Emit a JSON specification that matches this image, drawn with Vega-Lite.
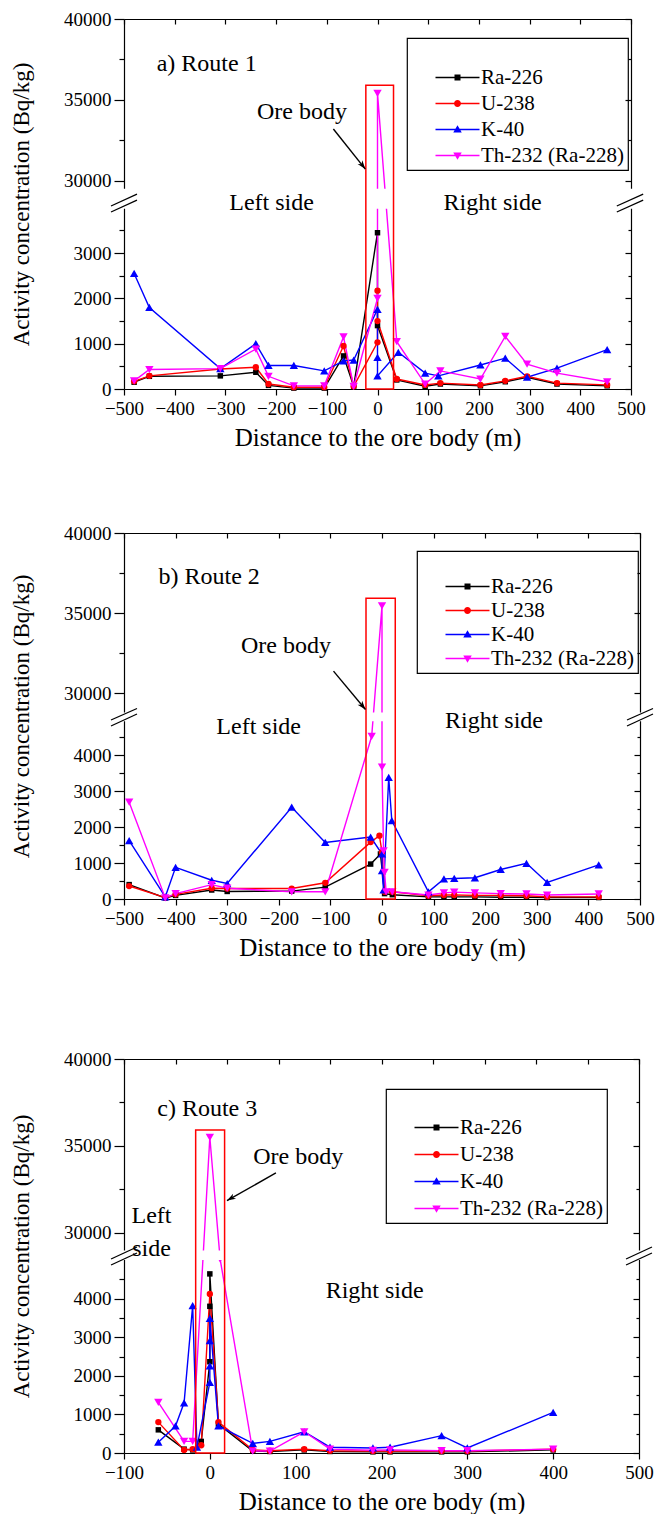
{
"$schema": "https://vega.github.io/schema/vega-lite/v6.json",
"padding": {"left": 10, "top": 10, "right": 0, "bottom": 0},
"background": "white",
"config": {
  "view": {"stroke": null},
  "axis": {"labelFont": "Liberation Serif", "titleFont": "Liberation Serif", "labelFontSize": 19, "titleFontSize": 23, "titleFontWeight": "normal", "labelColor": "black", "titleColor": "black", "domainColor": "black", "tickColor": "black", "domainWidth": 1.2, "tickWidth": 1.2, "grid": false, "labelFlush": false, "labelOverlap": false, "labelBound": false},
  "axisBottom": {"titleFontSize": 25},
  "legend": {"labelFont": "Liberation Serif", "labelFontSize": 21, "labelColor": "black", "titleFont": "Liberation Serif", "titleFontSize": 20, "strokeColor": "black", "strokeWidth": 1.2, "padding": 4, "symbolSize": 100, "symbolOffset": 36, "labelOffset": 13, "symbolStrokeWidth": 0, "symbolOpacity": 1, "labelLimit": 300},
  "text": {"font": "Liberation Serif"}
},
"datasets": {
  "r1": [
    {"s":"Ra-226","d":-480,"c":150,"q":1},{"s":"Ra-226","d":-450,"c":280,"q":2},{"s":"Ra-226","d":-310,"c":290,"q":3},{"s":"Ra-226","d":-240,"c":370,"q":4},{"s":"Ra-226","d":-215,"c":80,"q":5},{"s":"Ra-226","d":-165,"c":20,"q":6},{"s":"Ra-226","d":-105,"c":20,"q":7},{"s":"Ra-226","d":-67,"c":730,"q":8},{"s":"Ra-226","d":-47,"c":60,"q":9},{"s":"Ra-226","d":0,"c":3450,"q":10},{"s":"Ra-226","d":0,"c":1400,"q":11},{"s":"Ra-226","d":38,"c":200,"q":12},{"s":"Ra-226","d":94,"c":60,"q":13},{"s":"Ra-226","d":124,"c":110,"q":14},{"s":"Ra-226","d":203,"c":70,"q":15},{"s":"Ra-226","d":252,"c":160,"q":16},{"s":"Ra-226","d":295,"c":260,"q":17},{"s":"Ra-226","d":354,"c":110,"q":18},{"s":"Ra-226","d":453,"c":70,"q":19},
    {"s":"U-238","d":-480,"c":170,"q":1},{"s":"U-238","d":-450,"c":290,"q":2},{"s":"U-238","d":-310,"c":440,"q":3},{"s":"U-238","d":-240,"c":480,"q":4},{"s":"U-238","d":-215,"c":110,"q":5},{"s":"U-238","d":-165,"c":40,"q":6},{"s":"U-238","d":-105,"c":40,"q":7},{"s":"U-238","d":-67,"c":950,"q":8},{"s":"U-238","d":-47,"c":60,"q":9},{"s":"U-238","d":0,"c":1030,"q":10},{"s":"U-238","d":0,"c":2170,"q":11},{"s":"U-238","d":0,"c":1500,"q":12},{"s":"U-238","d":38,"c":220,"q":13},{"s":"U-238","d":94,"c":90,"q":14},{"s":"U-238","d":124,"c":130,"q":15},{"s":"U-238","d":203,"c":90,"q":16},{"s":"U-238","d":252,"c":180,"q":17},{"s":"U-238","d":295,"c":280,"q":18},{"s":"U-238","d":354,"c":130,"q":19},{"s":"U-238","d":453,"c":90,"q":20},
    {"s":"K-40","d":-480,"c":2550,"q":1},{"s":"K-40","d":-450,"c":1800,"q":2},{"s":"K-40","d":-310,"c":450,"q":3},{"s":"K-40","d":-240,"c":1000,"q":4},{"s":"K-40","d":-215,"c":520,"q":5},{"s":"K-40","d":-165,"c":520,"q":6},{"s":"K-40","d":-105,"c":400,"q":7},{"s":"K-40","d":-67,"c":620,"q":8},{"s":"K-40","d":-47,"c":640,"q":9},{"s":"K-40","d":0,"c":1760,"q":10},{"s":"K-40","d":0,"c":700,"q":11},{"s":"K-40","d":0,"c":290,"q":12},{"s":"K-40","d":41,"c":810,"q":13},{"s":"K-40","d":94,"c":350,"q":14},{"s":"K-40","d":120,"c":290,"q":15},{"s":"K-40","d":203,"c":530,"q":16},{"s":"K-40","d":252,"c":680,"q":17},{"s":"K-40","d":295,"c":260,"q":18},{"s":"K-40","d":354,"c":460,"q":19},{"s":"K-40","d":453,"c":870,"q":20},
    {"s":"Th-232 (Ra-228)","d":-480,"c":180,"q":1},{"s":"Th-232 (Ra-228)","d":-450,"c":430,"q":2},{"s":"Th-232 (Ra-228)","d":-310,"c":450,"q":3},{"s":"Th-232 (Ra-228)","d":-240,"c":880,"q":4},{"s":"Th-232 (Ra-228)","d":-215,"c":280,"q":5},{"s":"Th-232 (Ra-228)","d":-165,"c":70,"q":6},{"s":"Th-232 (Ra-228)","d":-105,"c":70,"q":7},{"s":"Th-232 (Ra-228)","d":-67,"c":1150,"q":8},{"s":"Th-232 (Ra-228)","d":-47,"c":60,"q":9},{"s":"Th-232 (Ra-228)","d":0,"c":2000,"q":10},{"s":"Th-232 (Ra-228)","d":0,"c":35400,"q":11},{"s":"Th-232 (Ra-228)","d":38,"c":1045,"q":12},{"s":"Th-232 (Ra-228)","d":94,"c":110,"q":13},{"s":"Th-232 (Ra-228)","d":124,"c":400,"q":14},{"s":"Th-232 (Ra-228)","d":203,"c":220,"q":15},{"s":"Th-232 (Ra-228)","d":252,"c":1160,"q":16},{"s":"Th-232 (Ra-228)","d":295,"c":550,"q":17},{"s":"Th-232 (Ra-228)","d":354,"c":350,"q":18},{"s":"Th-232 (Ra-228)","d":453,"c":160,"q":19}
  ],
  "r2": [
    {"s":"Ra-226","d":-490,"c":400,"q":1},{"s":"Ra-226","d":-420,"c":30,"q":2},{"s":"Ra-226","d":-400,"c":100,"q":3},{"s":"Ra-226","d":-330,"c":250,"q":4},{"s":"Ra-226","d":-300,"c":210,"q":5},{"s":"Ra-226","d":-175,"c":220,"q":6},{"s":"Ra-226","d":-110,"c":330,"q":7},{"s":"Ra-226","d":-22,"c":970,"q":8},{"s":"Ra-226","d":-3,"c":1250,"q":9},{"s":"Ra-226","d":5,"c":150,"q":10},{"s":"Ra-226","d":20,"c":120,"q":11},{"s":"Ra-226","d":90,"c":60,"q":12},{"s":"Ra-226","d":120,"c":60,"q":13},{"s":"Ra-226","d":140,"c":60,"q":14},{"s":"Ra-226","d":180,"c":60,"q":15},{"s":"Ra-226","d":230,"c":50,"q":16},{"s":"Ra-226","d":280,"c":50,"q":17},{"s":"Ra-226","d":320,"c":40,"q":18},{"s":"Ra-226","d":420,"c":40,"q":19},
    {"s":"U-238","d":-490,"c":360,"q":1},{"s":"U-238","d":-420,"c":40,"q":2},{"s":"U-238","d":-400,"c":130,"q":3},{"s":"U-238","d":-330,"c":300,"q":4},{"s":"U-238","d":-300,"c":290,"q":5},{"s":"U-238","d":-175,"c":290,"q":6},{"s":"U-238","d":-110,"c":450,"q":7},{"s":"U-238","d":-22,"c":1580,"q":8},{"s":"U-238","d":-5,"c":1760,"q":9},{"s":"U-238","d":0,"c":1300,"q":10},{"s":"U-238","d":5,"c":200,"q":11},{"s":"U-238","d":20,"c":200,"q":12},{"s":"U-238","d":90,"c":90,"q":13},{"s":"U-238","d":120,"c":110,"q":14},{"s":"U-238","d":140,"c":110,"q":15},{"s":"U-238","d":180,"c":100,"q":16},{"s":"U-238","d":230,"c":100,"q":17},{"s":"U-238","d":280,"c":90,"q":18},{"s":"U-238","d":320,"c":60,"q":19},{"s":"U-238","d":420,"c":60,"q":20},
    {"s":"K-40","d":-490,"c":1620,"q":1},{"s":"K-40","d":-420,"c":60,"q":2},{"s":"K-40","d":-400,"c":880,"q":3},{"s":"K-40","d":-330,"c":520,"q":4},{"s":"K-40","d":-300,"c":430,"q":5},{"s":"K-40","d":-175,"c":2550,"q":6},{"s":"K-40","d":-110,"c":1570,"q":7},{"s":"K-40","d":-22,"c":1720,"q":8},{"s":"K-40","d":0,"c":1250,"q":9},{"s":"K-40","d":0,"c":790,"q":10},{"s":"K-40","d":3,"c":250,"q":11},{"s":"K-40","d":13,"c":3380,"q":12},{"s":"K-40","d":19,"c":2180,"q":13},{"s":"K-40","d":90,"c":200,"q":14},{"s":"K-40","d":120,"c":560,"q":15},{"s":"K-40","d":140,"c":570,"q":16},{"s":"K-40","d":180,"c":590,"q":17},{"s":"K-40","d":230,"c":820,"q":18},{"s":"K-40","d":280,"c":990,"q":19},{"s":"K-40","d":320,"c":460,"q":20},{"s":"K-40","d":420,"c":950,"q":21},
    {"s":"Th-232 (Ra-228)","d":-490,"c":2690,"q":1},{"s":"Th-232 (Ra-228)","d":-420,"c":30,"q":2},{"s":"Th-232 (Ra-228)","d":-400,"c":150,"q":3},{"s":"Th-232 (Ra-228)","d":-330,"c":400,"q":4},{"s":"Th-232 (Ra-228)","d":-300,"c":300,"q":5},{"s":"Th-232 (Ra-228)","d":-175,"c":200,"q":6},{"s":"Th-232 (Ra-228)","d":-110,"c":200,"q":7},{"s":"Th-232 (Ra-228)","d":-20,"c":4520,"q":8},{"s":"Th-232 (Ra-228)","d":0,"c":35450,"q":9},{"s":"Th-232 (Ra-228)","d":0,"c":3660,"q":10},{"s":"Th-232 (Ra-228)","d":3,"c":1340,"q":11},{"s":"Th-232 (Ra-228)","d":5,"c":740,"q":12},{"s":"Th-232 (Ra-228)","d":8,"c":200,"q":13},{"s":"Th-232 (Ra-228)","d":20,"c":200,"q":14},{"s":"Th-232 (Ra-228)","d":90,"c":110,"q":15},{"s":"Th-232 (Ra-228)","d":120,"c":170,"q":16},{"s":"Th-232 (Ra-228)","d":140,"c":190,"q":17},{"s":"Th-232 (Ra-228)","d":180,"c":170,"q":18},{"s":"Th-232 (Ra-228)","d":230,"c":150,"q":19},{"s":"Th-232 (Ra-228)","d":280,"c":140,"q":20},{"s":"Th-232 (Ra-228)","d":320,"c":110,"q":21},{"s":"Th-232 (Ra-228)","d":420,"c":140,"q":22}
  ],
  "r3": [
    {"s":"Ra-226","d":-60,"c":600,"q":1},{"s":"Ra-226","d":-30,"c":100,"q":2},{"s":"Ra-226","d":-20,"c":80,"q":3},{"s":"Ra-226","d":-10,"c":300,"q":4},{"s":"Ra-226","d":0,"c":2365,"q":5},{"s":"Ra-226","d":0,"c":3800,"q":6},{"s":"Ra-226","d":0,"c":4640,"q":7},{"s":"Ra-226","d":10,"c":750,"q":8},{"s":"Ra-226","d":50,"c":50,"q":9},{"s":"Ra-226","d":70,"c":40,"q":10},{"s":"Ra-226","d":110,"c":80,"q":11},{"s":"Ra-226","d":140,"c":40,"q":12},{"s":"Ra-226","d":190,"c":30,"q":13},{"s":"Ra-226","d":210,"c":30,"q":14},{"s":"Ra-226","d":270,"c":30,"q":15},{"s":"Ra-226","d":300,"c":30,"q":16},{"s":"Ra-226","d":400,"c":80,"q":17},
    {"s":"U-238","d":-60,"c":800,"q":1},{"s":"U-238","d":-30,"c":80,"q":2},{"s":"U-238","d":-20,"c":100,"q":3},{"s":"U-238","d":-10,"c":200,"q":4},{"s":"U-238","d":0,"c":4120,"q":5},{"s":"U-238","d":10,"c":800,"q":6},{"s":"U-238","d":50,"c":80,"q":7},{"s":"U-238","d":70,"c":60,"q":8},{"s":"U-238","d":110,"c":100,"q":9},{"s":"U-238","d":140,"c":60,"q":10},{"s":"U-238","d":190,"c":50,"q":11},{"s":"U-238","d":210,"c":50,"q":12},{"s":"U-238","d":270,"c":50,"q":13},{"s":"U-238","d":300,"c":50,"q":14},{"s":"U-238","d":400,"c":100,"q":15},
    {"s":"K-40","d":-60,"c":280,"q":1},{"s":"K-40","d":-40,"c":700,"q":2},{"s":"K-40","d":-30,"c":1300,"q":3},{"s":"K-40","d":-20,"c":3820,"q":4},{"s":"K-40","d":-15,"c":150,"q":5},{"s":"K-40","d":0,"c":1830,"q":6},{"s":"K-40","d":0,"c":2260,"q":7},{"s":"K-40","d":0,"c":2910,"q":8},{"s":"K-40","d":0,"c":3490,"q":9},{"s":"K-40","d":10,"c":700,"q":10},{"s":"K-40","d":50,"c":250,"q":11},{"s":"K-40","d":70,"c":300,"q":12},{"s":"K-40","d":110,"c":550,"q":13},{"s":"K-40","d":140,"c":150,"q":14},{"s":"K-40","d":190,"c":130,"q":15},{"s":"K-40","d":210,"c":150,"q":16},{"s":"K-40","d":270,"c":450,"q":17},{"s":"K-40","d":300,"c":130,"q":18},{"s":"K-40","d":400,"c":1050,"q":19},
    {"s":"Th-232 (Ra-228)","d":-60,"c":1310,"q":1},{"s":"Th-232 (Ra-228)","d":-30,"c":300,"q":2},{"s":"Th-232 (Ra-228)","d":-20,"c":300,"q":3},{"s":"Th-232 (Ra-228)","d":0,"c":35500,"q":4},{"s":"Th-232 (Ra-228)","d":12,"c":10000,"q":5},{"s":"Th-232 (Ra-228)","d":50,"c":50,"q":6},{"s":"Th-232 (Ra-228)","d":70,"c":50,"q":7},{"s":"Th-232 (Ra-228)","d":110,"c":550,"q":8},{"s":"Th-232 (Ra-228)","d":140,"c":100,"q":9},{"s":"Th-232 (Ra-228)","d":190,"c":70,"q":10},{"s":"Th-232 (Ra-228)","d":210,"c":80,"q":11},{"s":"Th-232 (Ra-228)","d":270,"c":60,"q":12},{"s":"Th-232 (Ra-228)","d":300,"c":60,"q":13},{"s":"Th-232 (Ra-228)","d":400,"c":100,"q":14}
  ],
  "t1": [{"t":"a) Route 1","d":-337,"c":37200},{"t":"Ore body","d":-149,"c":34250},{"t":"Left side","d":-209,"c":28650},{"t":"Right side","d":227,"c":28600}],
  "t2": [{"t":"b) Route 2","d":-335,"c":37250},{"t":"Ore body","d":-186,"c":32920},{"t":"Left side","d":-239,"c":4780},{"t":"Right side","d":217,"c":4940}],
  "t3": [{"t":"c) Route 3","d":-3,"c":37130},{"t":"Ore body","d":103,"c":34370},{"t":"Left\nside","d":-68,"c":30950},{"t":"Right side","d":192,"c":4200}],
  "b1": [{"x1":-23,"x2":31.6,"y1":0,"y2":35900}],
  "b2": [{"x1":-31,"x2":25.7,"y1":0,"y2":35930}],
  "b3": [{"x1":-16.5,"x2":17.2,"y1":0,"y2":35920}],
  "g1": [{"x1":-530,"x2":530,"y1":3980,"y2":29500}],
  "g2": [{"x1":-530,"x2":530,"y1":4940,"y2":28800}],
  "g3": [{"x1":-118,"x2":518,"y1":5000,"y2":29000}],
  "k1": [{"x1":-525.6,"y1":3907,"x2":-474.4,"y2":28800},{"x1":-525.6,"y1":19750,"x2":-474.4,"y2":29177},{"x1":472,"y1":3907,"x2":524,"y2":28800},{"x1":472,"y1":19750,"x2":524,"y2":29177}],
  "k2": [{"x1":-525.2,"y1":4806,"x2":-474.8,"y2":28666},{"x1":-525.2,"y1":4972,"x2":-474.8,"y2":29042},{"x1":474.8,"y1":4806,"x2":525.2,"y2":28666},{"x1":474.8,"y1":4972,"x2":525.2,"y2":29042}],
  "k3": [{"x1":-115.1,"y1":4870,"x2":-84.9,"y2":28851},{"x1":-115.1,"y1":10380,"x2":-84.9,"y2":29195},{"x1":484.9,"y1":4870,"x2":515.1,"y2":28851},{"x1":484.9,"y1":10380,"x2":515.1,"y2":29195}],
  "a1": [{"d":-87,"c":33200,"q":1},{"d":-24,"c":30720,"q":2}],
  "a2": [{"d":-94,"c":31380,"q":1},{"d":-32,"c":28980,"q":2}],
  "a3": [{"d":77,"c":33450,"q":1},{"d":20,"c":31860,"q":2}]
},
"vconcat": [
   {
    "width": 507, "height": 370,
    "resolve": {"axis": {"x": "independent", "y": "independent"}},
    "layer": [
     {"data": {"name": "r1"}, "mark": {"type": "line", "strokeWidth": 1.4},
      "encoding": {
       "x": {"field": "d", "type": "quantitative", "scale": {"domain": [-500, 500], "nice": false, "zero": false},
             "axis": {"orient": "bottom", "values": [-500,-400,-300,-200,-100,0,100,200,300,400,500], "title": "Distance to the ore body (m)", "tickSize": 6, "labelPadding": 4, "titlePadding": 7, "format": "d"}},
       "y": {"field": "c", "type": "quantitative", "scale": {"domain": [0, 4000, 28500, 40000], "range": [370, 188.8, 186, 0], "nice": false, "zero": false},
             "axis": {"orient": "left", "values": [0,1000,2000,3000,30000,35000,40000], "title": "Activity concentration (Bq/kg)", "tickSize": 10, "labelPadding": 3, "format": "d", "titleX": -103, "titleBaseline": "middle", "titleAngle": 270}},
       "stroke": {"field": "s", "type": "nominal", "scale": {"domain": ["Th-232 (Ra-228)","K-40","U-238","Ra-226"], "range": ["#ff00ff","#0000ff","#ff0000","#000000"]}, "legend": null},
       "order": {"field": "q", "type": "quantitative"}}},
     {"data": {"name": "r1"}, "transform": [{"filter": "datum.s === 'Ra-226'"}], "mark": {"type": "point", "filled": true, "opacity": 1, "shape": "square", "size": 30, "color": "#000000"},
      "encoding": {
       "x": {"field": "d", "type": "quantitative", "scale": {"domain": [-500, 500], "nice": false, "zero": false},
             "axis": {"orient": "top", "values": [-500,-400,-300,-200,-100,0,100,200,300,400,500], "labels": false, "title": null, "tickSize": -5, "domain": true}},
       "y": {"field": "c", "type": "quantitative", "scale": {"domain": [0, 4000, 28500, 40000], "range": [370, 188.8, 186, 0], "nice": false, "zero": false},
             "axis": {"orient": "right", "values": [0,1000,2000,3000,30000,35000,40000], "labels": false, "title": null, "tickSize": -6, "domain": true}}}},
     {"data": {"name": "r1"}, "transform": [{"filter": "datum.s === 'U-238'"}], "mark": {"type": "point", "filled": true, "opacity": 1, "shape": "circle", "size": 40, "color": "#ff0000"},
      "encoding": {
       "x": {"field": "d", "type": "quantitative", "scale": {"domain": [-500, 500], "nice": false, "zero": false}, "axis": null},
       "y": {"field": "c", "type": "quantitative", "scale": {"domain": [0, 4000, 28500, 40000], "range": [370, 188.8, 186, 0], "nice": false, "zero": false}, "axis": null}}},
     {"data": {"name": "r1"}, "transform": [{"filter": "datum.s === 'K-40'"}], "mark": {"type": "point", "filled": true, "opacity": 1, "shape": "triangle-up", "size": 70, "color": "#0000ff"},
      "encoding": {
       "x": {"field": "d", "type": "quantitative", "scale": {"domain": [-500, 500], "nice": false, "zero": false}, "axis": null},
       "y": {"field": "c", "type": "quantitative", "scale": {"domain": [0, 4000, 28500, 40000], "range": [370, 188.8, 186, 0], "nice": false, "zero": false}, "axis": null}}},
     {"data": {"name": "r1"}, "transform": [{"filter": "datum.s === 'Th-232 (Ra-228)'"}], "mark": {"type": "point", "filled": true, "opacity": 1, "shape": "triangle-down", "size": 70, "color": "#ff00ff"},
      "encoding": {
       "x": {"field": "d", "type": "quantitative", "scale": {"domain": [-500, 500], "nice": false, "zero": false}, "axis": null},
       "y": {"field": "c", "type": "quantitative", "scale": {"domain": [0, 4000, 28500, 40000], "range": [370, 188.8, 186, 0], "nice": false, "zero": false}, "axis": null}}},
     {"data": {"name": "r1"}, "mark": {"type": "point", "filled": true, "opacity": 0},
      "encoding": {
       "x": {"field": "d", "type": "quantitative", "scale": {"domain": [-500, 500], "nice": false, "zero": false}, "axis": null},
       "y": {"field": "c", "type": "quantitative", "scale": {"domain": [0, 4000, 28500, 40000], "range": [370, 188.8, 186, 0], "nice": false, "zero": false}, "axis": null},
       "color": {"field": "s", "type": "nominal", "scale": {"domain": ["Ra-226","U-238","K-40","Th-232 (Ra-228)"], "range": ["#000000","#ff0000","#0000ff","#ff00ff"]},
                 "legend": {"orient": "none", "legendX": 283, "legendY": 19, "title": " ", "titlePadding": 5, "rowPadding": 4, "symbolOpacity": 1}},
       "shape": {"field": "s", "type": "nominal", "scale": {"domain": ["Ra-226","U-238","K-40","Th-232 (Ra-228)"], "range": ["M-4.4,-0.14H4.4V0.14H-4.4Z M-0.6,-0.6H0.6V0.6H-0.6Z", "M-4.4,-0.14H4.4V0.14H-4.4Z M0.7,0A0.7,0.7,0,1,1,-0.7,0A0.7,0.7,0,1,1,0.7,0Z", "M-4.4,-0.14H4.4V0.14H-4.4Z M0,-0.85L0.85,0.6H-0.85Z", "M-4.4,-0.14H4.4V0.14H-4.4Z M0,0.85L-0.85,-0.6H0.85Z"]}}}},
     {"data": {"name": "g1"}, "mark": {"type": "rect", "fill": "white", "strokeWidth": 0},
      "encoding": {
       "x": {"field": "x1", "type": "quantitative", "scale": {"domain": [-500, 500], "nice": false, "zero": false}, "axis": null}, "x2": {"field": "x2"},
       "y": {"field": "y1", "type": "quantitative", "scale": {"domain": [0, 4000, 28500, 40000], "range": [370, 188.8, 186, 0], "nice": false, "zero": false},
             "axis": {"orient": "left", "values": [500,1500,2500,3500,32500,37500], "labels": false, "title": null, "tickSize": 5, "domain": false}}, "y2": {"field": "y2"}}},
     {"data": {"name": "b1"}, "mark": {"type": "rect", "fillOpacity": 0, "stroke": "#ff0000", "strokeWidth": 1.5},
      "encoding": {
       "x": {"field": "x1", "type": "quantitative", "scale": {"domain": [-500, 500], "nice": false, "zero": false}, "axis": null}, "x2": {"field": "x2"},
       "y": {"field": "y1", "type": "quantitative", "scale": {"domain": [0, 4000, 28500, 40000], "range": [370, 188.8, 186, 0], "nice": false, "zero": false},
             "axis": {"orient": "right", "values": [500,1500,2500,3500,32500,37500], "labels": false, "title": null, "tickSize": -3, "domain": false}}, "y2": {"field": "y2"}}},
     {"data": {"name": "a1"}, "mark": {"type": "line", "color": "black", "strokeWidth": 1.4},
      "encoding": {
       "x": {"field": "d", "type": "quantitative", "scale": {"domain": [-500, 500], "nice": false, "zero": false}, "axis": null},
       "y": {"field": "c", "type": "quantitative", "scale": {"domain": [0, 4000, 28500, 40000], "range": [370, 188.8, 186, 0], "nice": false, "zero": false}, "axis": null},
       "order": {"field": "q", "type": "quantitative"}}},
     {"data": {"name": "a1"}, "transform": [{"filter": "datum.q == 2"}], "mark": {"type": "point", "filled": true, "color": "black", "opacity": 1, "size": 120, "angle": -38, "shape": "M0,0L-0.55,-1.6L0,-1.15L0.55,-1.6Z"},
      "encoding": {
       "x": {"field": "d", "type": "quantitative", "scale": {"domain": [-500, 500], "nice": false, "zero": false}, "axis": null},
       "y": {"field": "c", "type": "quantitative", "scale": {"domain": [0, 4000, 28500, 40000], "range": [370, 188.8, 186, 0], "nice": false, "zero": false}, "axis": null}}},
     {"data": {"name": "t1"}, "mark": {"type": "text", "fontSize": 24, "font": "Liberation Serif", "color": "black", "align": "center", "baseline": "middle", "lineBreak": "\n", "lineHeight": 33},
      "encoding": {
       "x": {"field": "d", "type": "quantitative", "scale": {"domain": [-500, 500], "nice": false, "zero": false}, "axis": null},
       "y": {"field": "c", "type": "quantitative", "scale": {"domain": [0, 4000, 28500, 40000], "range": [370, 188.8, 186, 0], "nice": false, "zero": false}, "axis": null},
       "text": {"field": "t", "type": "nominal"}}},
     {"data": {"name": "k1"}, "mark": {"type": "rule", "color": "black", "strokeWidth": 1.3},
      "encoding": {
       "x": {"field": "x1", "type": "quantitative", "scale": {"domain": [-500, 500], "nice": false, "zero": false}, "axis": null}, "x2": {"field": "x2"},
       "y": {"field": "y1", "type": "quantitative", "scale": {"domain": [0, 4000, 28500, 40000], "range": [370, 188.8, 186, 0], "nice": false, "zero": false}, "axis": null}, "y2": {"field": "y2"}}}
    ]
   },
   {
    "width": 516, "height": 382,
    "resolve": {"axis": {"x": "independent", "y": "independent"}},
    "layer": [
     {"data": {"name": "r2"}, "mark": {"type": "line", "strokeWidth": 1.4},
      "encoding": {
       "x": {"field": "d", "type": "quantitative", "scale": {"domain": [-500, 500], "nice": false, "zero": false},
             "axis": {"orient": "bottom", "offset": -16, "values": [-500,-400,-300,-200,-100,0,100,200,300,400,500], "title": "Distance to the ore body (m)", "tickSize": 6, "labelPadding": 4, "titlePadding": 7, "format": "d"}},
       "y": {"field": "c", "type": "quantitative", "scale": {"domain": [0, 5000, 28700, 40000], "range": [366, 186, 181, 0], "nice": false, "zero": false},
             "axis": {"orient": "left", "values": [0,1000,2000,3000,4000,30000,35000,40000], "title": "Activity concentration (Bq/kg)", "tickSize": 10, "labelPadding": 3, "format": "d", "titleX": -103, "titleY": 183, "titleBaseline": "middle", "titleAngle": 270}},
       "stroke": {"field": "s", "type": "nominal", "scale": {"domain": ["Th-232 (Ra-228)","K-40","U-238","Ra-226"], "range": ["#ff00ff","#0000ff","#ff0000","#000000"]}, "legend": null},
       "order": {"field": "q", "type": "quantitative"}}},
     {"data": {"name": "r2"}, "transform": [{"filter": "datum.s === 'Ra-226'"}], "mark": {"type": "point", "filled": true, "opacity": 1, "shape": "square", "size": 30, "color": "#000000"},
      "encoding": {
       "x": {"field": "d", "type": "quantitative", "scale": {"domain": [-500, 500], "nice": false, "zero": false},
             "axis": {"orient": "top", "values": [-500,-400,-300,-200,-100,0,100,200,300,400,500], "labels": false, "title": null, "tickSize": -5, "domain": true}},
       "y": {"field": "c", "type": "quantitative", "scale": {"domain": [0, 5000, 28700, 40000], "range": [366, 186, 181, 0], "nice": false, "zero": false},
             "axis": {"orient": "right", "values": [0,1000,2000,3000,4000,30000,35000,40000], "labels": false, "title": null, "tickSize": -6, "domain": true}}}},
     {"data": {"name": "r2"}, "transform": [{"filter": "datum.s === 'U-238'"}], "mark": {"type": "point", "filled": true, "opacity": 1, "shape": "circle", "size": 40, "color": "#ff0000"},
      "encoding": {
       "x": {"field": "d", "type": "quantitative", "scale": {"domain": [-500, 500], "nice": false, "zero": false}, "axis": null},
       "y": {"field": "c", "type": "quantitative", "scale": {"domain": [0, 5000, 28700, 40000], "range": [366, 186, 181, 0], "nice": false, "zero": false}, "axis": null}}},
     {"data": {"name": "r2"}, "transform": [{"filter": "datum.s === 'K-40'"}], "mark": {"type": "point", "filled": true, "opacity": 1, "shape": "triangle-up", "size": 70, "color": "#0000ff"},
      "encoding": {
       "x": {"field": "d", "type": "quantitative", "scale": {"domain": [-500, 500], "nice": false, "zero": false}, "axis": null},
       "y": {"field": "c", "type": "quantitative", "scale": {"domain": [0, 5000, 28700, 40000], "range": [366, 186, 181, 0], "nice": false, "zero": false}, "axis": null}}},
     {"data": {"name": "r2"}, "transform": [{"filter": "datum.s === 'Th-232 (Ra-228)'"}], "mark": {"type": "point", "filled": true, "opacity": 1, "shape": "triangle-down", "size": 70, "color": "#ff00ff"},
      "encoding": {
       "x": {"field": "d", "type": "quantitative", "scale": {"domain": [-500, 500], "nice": false, "zero": false}, "axis": null},
       "y": {"field": "c", "type": "quantitative", "scale": {"domain": [0, 5000, 28700, 40000], "range": [366, 186, 181, 0], "nice": false, "zero": false}, "axis": null}}},
     {"data": {"name": "r2"}, "mark": {"type": "point", "filled": true, "opacity": 0},
      "encoding": {
       "x": {"field": "d", "type": "quantitative", "scale": {"domain": [-500, 500], "nice": false, "zero": false}, "axis": null},
       "y": {"field": "c", "type": "quantitative", "scale": {"domain": [0, 5000, 28700, 40000], "range": [366, 186, 181, 0], "nice": false, "zero": false}, "axis": null},
       "color": {"field": "s", "type": "nominal", "scale": {"domain": ["Ra-226","U-238","K-40","Th-232 (Ra-228)"], "range": ["#000000","#ff0000","#0000ff","#ff00ff"]},
                 "legend": {"orient": "none", "legendX": 293, "legendY": 18, "title": " ", "titlePadding": 1, "rowPadding": 2, "symbolOpacity": 1}},
       "shape": {"field": "s", "type": "nominal", "scale": {"domain": ["Ra-226","U-238","K-40","Th-232 (Ra-228)"], "range": ["M-4.4,-0.14H4.4V0.14H-4.4Z M-0.6,-0.6H0.6V0.6H-0.6Z", "M-4.4,-0.14H4.4V0.14H-4.4Z M0.7,0A0.7,0.7,0,1,1,-0.7,0A0.7,0.7,0,1,1,0.7,0Z", "M-4.4,-0.14H4.4V0.14H-4.4Z M0,-0.85L0.85,0.6H-0.85Z", "M-4.4,-0.14H4.4V0.14H-4.4Z M0,0.85L-0.85,-0.6H0.85Z"]}}}},
     {"data": {"name": "g2"}, "mark": {"type": "rect", "fill": "white", "strokeWidth": 0},
      "encoding": {
       "x": {"field": "x1", "type": "quantitative", "scale": {"domain": [-500, 500], "nice": false, "zero": false}, "axis": null}, "x2": {"field": "x2"},
       "y": {"field": "y1", "type": "quantitative", "scale": {"domain": [0, 5000, 28700, 40000], "range": [366, 186, 181, 0], "nice": false, "zero": false},
             "axis": {"orient": "left", "values": [500,1500,2500,3500,4500,32500,37500], "labels": false, "title": null, "tickSize": 5, "domain": false}}, "y2": {"field": "y2"}}},
     {"data": {"name": "b2"}, "mark": {"type": "rect", "fillOpacity": 0, "stroke": "#ff0000", "strokeWidth": 1.5},
      "encoding": {
       "x": {"field": "x1", "type": "quantitative", "scale": {"domain": [-500, 500], "nice": false, "zero": false}, "axis": null}, "x2": {"field": "x2"},
       "y": {"field": "y1", "type": "quantitative", "scale": {"domain": [0, 5000, 28700, 40000], "range": [366, 186, 181, 0], "nice": false, "zero": false},
             "axis": {"orient": "right", "values": [500,1500,2500,3500,4500,32500,37500], "labels": false, "title": null, "tickSize": -3, "domain": false}}, "y2": {"field": "y2"}}},
     {"data": {"name": "a2"}, "mark": {"type": "line", "color": "black", "strokeWidth": 1.4},
      "encoding": {
       "x": {"field": "d", "type": "quantitative", "scale": {"domain": [-500, 500], "nice": false, "zero": false}, "axis": null},
       "y": {"field": "c", "type": "quantitative", "scale": {"domain": [0, 5000, 28700, 40000], "range": [366, 186, 181, 0], "nice": false, "zero": false}, "axis": null},
       "order": {"field": "q", "type": "quantitative"}}},
     {"data": {"name": "a2"}, "transform": [{"filter": "datum.q == 2"}], "mark": {"type": "point", "filled": true, "color": "black", "opacity": 1, "size": 120, "angle": -40, "shape": "M0,0L-0.55,-1.6L0,-1.15L0.55,-1.6Z"},
      "encoding": {
       "x": {"field": "d", "type": "quantitative", "scale": {"domain": [-500, 500], "nice": false, "zero": false}, "axis": null},
       "y": {"field": "c", "type": "quantitative", "scale": {"domain": [0, 5000, 28700, 40000], "range": [366, 186, 181, 0], "nice": false, "zero": false}, "axis": null}}},
     {"data": {"name": "t2"}, "mark": {"type": "text", "fontSize": 24, "font": "Liberation Serif", "color": "black", "align": "center", "baseline": "middle", "lineBreak": "\n", "lineHeight": 33},
      "encoding": {
       "x": {"field": "d", "type": "quantitative", "scale": {"domain": [-500, 500], "nice": false, "zero": false}, "axis": null},
       "y": {"field": "c", "type": "quantitative", "scale": {"domain": [0, 5000, 28700, 40000], "range": [366, 186, 181, 0], "nice": false, "zero": false}, "axis": null},
       "text": {"field": "t", "type": "nominal"}}},
     {"data": {"name": "k2"}, "mark": {"type": "rule", "color": "black", "strokeWidth": 1.3},
      "encoding": {
       "x": {"field": "x1", "type": "quantitative", "scale": {"domain": [-500, 500], "nice": false, "zero": false}, "axis": null}, "x2": {"field": "x2"},
       "y": {"field": "y1", "type": "quantitative", "scale": {"domain": [0, 5000, 28700, 40000], "range": [366, 186, 181, 0], "nice": false, "zero": false}, "axis": null}, "y2": {"field": "y2"}}}
    ]
   },
 {
  "width": 515, "height": 394,
  "resolve": {"axis": {"x": "independent", "y": "independent"}},
  "layer": [
   {"data": {"name": "r3"}, "mark": {"type": "line", "strokeWidth": 1.4},
    "encoding": {
     "x": {"field": "d", "type": "quantitative", "scale": {"domain": [-100, 500], "nice": false, "zero": false},
           "axis": {"orient": "bottom", "values": [-100,0,100,200,300,400,500], "title": "Distance to the ore body (m)", "tickSize": 6, "labelPadding": 4, "titlePadding": 7, "format": "d"}},
     "y": {"field": "c", "type": "quantitative", "scale": {"domain": [0, 5000, 28700, 40000], "range": [394, 201, 196.6, 0], "nice": false, "zero": false},
           "axis": {"orient": "left", "values": [0,1000,2000,3000,4000,30000,35000,40000], "title": "Activity concentration (Bq/kg)", "tickSize": 10, "labelPadding": 3, "format": "d", "titleX": -103, "titleBaseline": "middle", "titleAngle": 270}},
     "stroke": {"field": "s", "type": "nominal", "scale": {"domain": ["Th-232 (Ra-228)","K-40","U-238","Ra-226"], "range": ["#ff00ff","#0000ff","#ff0000","#000000"]}, "legend": null},
     "order": {"field": "q", "type": "quantitative"}}},
   {"data": {"name": "r3"}, "transform": [{"filter": "datum.s === 'Ra-226'"}], "mark": {"type": "point", "filled": true, "opacity": 1, "shape": "square", "size": 30, "color": "#000000"},
    "encoding": {
     "x": {"field": "d", "type": "quantitative", "scale": {"domain": [-100, 500], "nice": false, "zero": false},
           "axis": {"orient": "top", "values": [-100,-40,20,80,140,200,260,320,380,440,500], "labels": false, "title": null, "tickSize": -5, "domain": true}},
     "y": {"field": "c", "type": "quantitative", "scale": {"domain": [0, 5000, 28700, 40000], "range": [394, 201, 196.6, 0], "nice": false, "zero": false},
           "axis": {"orient": "right", "values": [0,1000,2000,3000,4000,30000,35000,40000], "labels": false, "title": null, "tickSize": -6, "domain": true}}}},
   {"data": {"name": "r3"}, "transform": [{"filter": "datum.s === 'U-238'"}], "mark": {"type": "point", "filled": true, "opacity": 1, "shape": "circle", "size": 40, "color": "#ff0000"},
    "encoding": {
     "x": {"field": "d", "type": "quantitative", "scale": {"domain": [-100, 500], "nice": false, "zero": false}, "axis": null},
     "y": {"field": "c", "type": "quantitative", "scale": {"domain": [0, 5000, 28700, 40000], "range": [394, 201, 196.6, 0], "nice": false, "zero": false}, "axis": null}}},
   {"data": {"name": "r3"}, "transform": [{"filter": "datum.s === 'K-40'"}], "mark": {"type": "point", "filled": true, "opacity": 1, "shape": "triangle-up", "size": 70, "color": "#0000ff"},
    "encoding": {
     "x": {"field": "d", "type": "quantitative", "scale": {"domain": [-100, 500], "nice": false, "zero": false}, "axis": null},
     "y": {"field": "c", "type": "quantitative", "scale": {"domain": [0, 5000, 28700, 40000], "range": [394, 201, 196.6, 0], "nice": false, "zero": false}, "axis": null}}},
   {"data": {"name": "r3"}, "transform": [{"filter": "datum.s === 'Th-232 (Ra-228)'"}], "mark": {"type": "point", "filled": true, "opacity": 1, "shape": "triangle-down", "size": 70, "color": "#ff00ff"},
    "encoding": {
     "x": {"field": "d", "type": "quantitative", "scale": {"domain": [-100, 500], "nice": false, "zero": false}, "axis": null},
     "y": {"field": "c", "type": "quantitative", "scale": {"domain": [0, 5000, 28700, 40000], "range": [394, 201, 196.6, 0], "nice": false, "zero": false}, "axis": null}}},
   {"data": {"name": "r3"}, "mark": {"type": "point", "filled": true, "opacity": 0},
    "encoding": {
     "x": {"field": "d", "type": "quantitative", "scale": {"domain": [-100, 500], "nice": false, "zero": false}, "axis": null},
     "y": {"field": "c", "type": "quantitative", "scale": {"domain": [0, 5000, 28700, 40000], "range": [394, 201, 196.6, 0], "nice": false, "zero": false}, "axis": null},
     "color": {"field": "s", "type": "nominal", "scale": {"domain": ["Ra-226","U-238","K-40","Th-232 (Ra-228)"], "range": ["#000000","#ff0000","#0000ff","#ff00ff"]},
               "legend": {"orient": "none", "legendX": 262, "legendY": 30, "title": " ", "titlePadding": 4, "rowPadding": 5, "symbolOpacity": 1}},
     "shape": {"field": "s", "type": "nominal", "scale": {"domain": ["Ra-226","U-238","K-40","Th-232 (Ra-228)"], "range": ["M-4.4,-0.14H4.4V0.14H-4.4Z M-0.6,-0.6H0.6V0.6H-0.6Z", "M-4.4,-0.14H4.4V0.14H-4.4Z M0.7,0A0.7,0.7,0,1,1,-0.7,0A0.7,0.7,0,1,1,0.7,0Z", "M-4.4,-0.14H4.4V0.14H-4.4Z M0,-0.85L0.85,0.6H-0.85Z", "M-4.4,-0.14H4.4V0.14H-4.4Z M0,0.85L-0.85,-0.6H0.85Z"]}}}},
   {"data": {"name": "g3"}, "mark": {"type": "rect", "fill": "white", "strokeWidth": 0},
    "encoding": {
     "x": {"field": "x1", "type": "quantitative", "scale": {"domain": [-100, 500], "nice": false, "zero": false}, "axis": null}, "x2": {"field": "x2"},
     "y": {"field": "y1", "type": "quantitative", "scale": {"domain": [0, 5000, 28700, 40000], "range": [394, 201, 196.6, 0], "nice": false, "zero": false},
           "axis": {"orient": "left", "values": [500,1500,2500,3500,4500,32500,37500], "labels": false, "title": null, "tickSize": 5, "domain": false}}, "y2": {"field": "y2"}}},
   {"data": {"name": "b3"}, "mark": {"type": "rect", "fillOpacity": 0, "stroke": "#ff0000", "strokeWidth": 1.5},
    "encoding": {
     "x": {"field": "x1", "type": "quantitative", "scale": {"domain": [-100, 500], "nice": false, "zero": false}, "axis": null}, "x2": {"field": "x2"},
     "y": {"field": "y1", "type": "quantitative", "scale": {"domain": [0, 5000, 28700, 40000], "range": [394, 201, 196.6, 0], "nice": false, "zero": false},
           "axis": {"orient": "right", "values": [500,1500,2500,3500,4500,32500,37500], "labels": false, "title": null, "tickSize": -3, "domain": false}}, "y2": {"field": "y2"}}},
   {"data": {"name": "a3"}, "mark": {"type": "line", "color": "black", "strokeWidth": 1.4},
    "encoding": {
     "x": {"field": "d", "type": "quantitative", "scale": {"domain": [-100, 500], "nice": false, "zero": false}, "axis": null},
     "y": {"field": "c", "type": "quantitative", "scale": {"domain": [0, 5000, 28700, 40000], "range": [394, 201, 196.6, 0], "nice": false, "zero": false}, "axis": null},
     "order": {"field": "q", "type": "quantitative"}}},
   {"data": {"name": "a3"}, "transform": [{"filter": "datum.q == 2"}], "mark": {"type": "point", "filled": true, "color": "black", "opacity": 1, "size": 120, "angle": 60, "shape": "M0,0L-0.55,-1.6L0,-1.15L0.55,-1.6Z"},
    "encoding": {
     "x": {"field": "d", "type": "quantitative", "scale": {"domain": [-100, 500], "nice": false, "zero": false}, "axis": null},
     "y": {"field": "c", "type": "quantitative", "scale": {"domain": [0, 5000, 28700, 40000], "range": [394, 201, 196.6, 0], "nice": false, "zero": false}, "axis": null}}},
   {"data": {"name": "t3"}, "mark": {"type": "text", "fontSize": 24, "font": "Liberation Serif", "color": "black", "align": "center", "baseline": "middle", "lineBreak": "\n", "lineHeight": 33},
    "encoding": {
     "x": {"field": "d", "type": "quantitative", "scale": {"domain": [-100, 500], "nice": false, "zero": false}, "axis": null},
     "y": {"field": "c", "type": "quantitative", "scale": {"domain": [0, 5000, 28700, 40000], "range": [394, 201, 196.6, 0], "nice": false, "zero": false}, "axis": null},
     "text": {"field": "t", "type": "nominal"}}},
   {"data": {"name": "k3"}, "mark": {"type": "rule", "color": "black", "strokeWidth": 1.3},
    "encoding": {
     "x": {"field": "x1", "type": "quantitative", "scale": {"domain": [-100, 500], "nice": false, "zero": false}, "axis": null}, "x2": {"field": "x2"},
     "y": {"field": "y1", "type": "quantitative", "scale": {"domain": [0, 5000, 28700, 40000], "range": [394, 201, 196.6, 0], "nice": false, "zero": false}, "axis": null}, "y2": {"field": "y2"}}}
  ]
 }
],
"spacing": 144,
"bounds": "flush",
"resolve": {"scale": {"color": "independent", "stroke": "independent", "shape": "independent"}}
}
